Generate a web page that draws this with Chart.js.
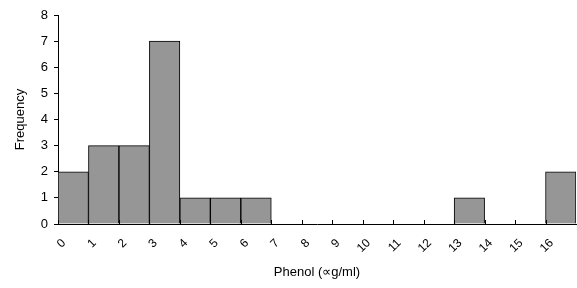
<!DOCTYPE html>
<html>
<head>
<meta charset="utf-8">
<script src="https://cdn.jsdelivr.net/npm/chart.js@4/dist/chart.umd.min.js"></script>
<style>
  html, body { margin: 0; padding: 0; background: #fff; }
  #wrap { width: 577px; height: 288px; position: relative; }
</style>
</head>
<body>
<div id="wrap"><canvas id="chart"></canvas></div>
<script>
// bin left edges (µg/ml) and counts per bin
const binStarts = [0, 1, 2, 3, 4, 5, 6, 7, 8, 9, 10, 11, 12, 13, 14, 15, 16];
const frequency = [2, 3, 3, 7, 1, 1, 1, 0, 0, 0, 0, 0, 0, 1, 0, 0, 2];
const yTicks = [0, 1, 2, 3, 4, 5, 6, 7, 8];

const FONT = 'Liberation Sans, Arial, sans-serif';

// small tick marks pointing up into the plot, like the original
const innerTicks = {
  id: 'innerTicks',
  afterDraw(chart) {
    const x = chart.scales.x, ctx = chart.ctx;
    const base = chart.chartArea.bottom;
    ctx.save();
    ctx.strokeStyle = '#000';
    ctx.lineWidth = 1;
    binStarts.forEach(v => {
      const px = Math.round(x.getPixelForValue(v)) + 0.5;
      ctx.beginPath();
      ctx.moveTo(px, base);
      ctx.lineTo(px, base - 4);
      ctx.stroke();
    });
    ctx.restore();
  }
};

new Chart(document.getElementById('chart'), {
  type: 'bar',
  data: {
    datasets: [{
      data: binStarts.map((b, i) => ({ x: b + 0.5, y: frequency[i] })),
      backgroundColor: '#969696',
      borderColor: '#000',
      borderWidth: 1,
      borderSkipped: 'bottom',
      barPercentage: 1,
      categoryPercentage: 1
    }]
  },
  options: {
    responsive: true,
    maintainAspectRatio: false,
    animation: false,
    layout: { padding: { top: 15, right: 1, left: 13, bottom: 0 } },
    plugins: { legend: { display: false }, tooltip: { enabled: false } },
    scales: {
      x: {
        type: 'linear',
        min: 0,
        max: 17,
        offset: false,
        afterFit: s => { s.height = 64; },
        afterBuildTicks: s => { s.ticks = binStarts.map(v => ({ value: v })); },
        border: { display: true, color: '#000', width: 1 },
        grid: { display: false },
        ticks: {
          color: '#000',
          font: { family: FONT, size: 12 },
          minRotation: 45,
          maxRotation: 45,
          autoSkip: false,
          padding: 4,
          labelOffset: 6,
          callback: v => String(v)
        },
        title: {
          display: true,
          text: 'Phenol (\u221Dg/ml)',
          color: '#000',
          font: { family: FONT, size: 13 },
          padding: { top: 4, bottom: 8 }
        }
      },
      y: {
        min: 0,
        max: 8,
        afterFit: s => { s.width = 45; },
        afterBuildTicks: s => { s.ticks = yTicks.map(v => ({ value: v })); },
        border: { display: true, color: '#000', width: 1 },
        grid: { drawOnChartArea: false, drawTicks: true, tickLength: 4, color: '#000' },
        ticks: {
          color: '#000',
          font: { family: FONT, size: 13 },
          padding: 6
        },
        title: {
          display: true,
          text: 'Frequency',
          color: '#000',
          font: { family: FONT, size: 13 },
          padding: { top: 0, bottom: 4 }
        }
      }
    }
  },
  plugins: [innerTicks]
});
</script>
</body>
</html>
